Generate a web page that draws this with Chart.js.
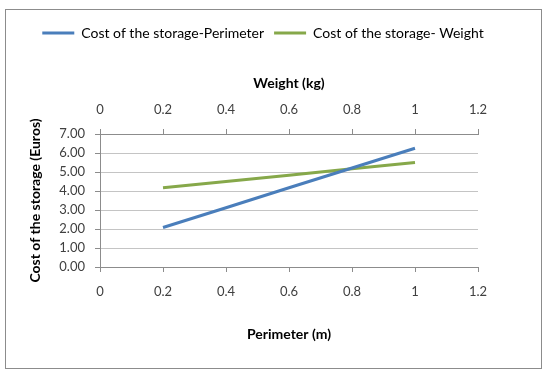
<!DOCTYPE html>
<html>
<head>
<meta charset="utf-8">
<script src="https://cdn.jsdelivr.net/npm/chart.js@4.4.1/dist/chart.umd.min.js"></script>
<style>
  html, body { margin: 0; padding: 0; background: #fff; }
  #wrap { position: relative; width: 550px; height: 376px; }
  #frame { position: absolute; left: 5px; top: 9px; width: 535px; height: 358px; border: 1px solid #8c8c8c; pointer-events: none; }
  canvas { position: absolute; left: 0; top: 0; }
</style>
</head>
<body>
<div id="wrap">
  <canvas id="chart" width="550" height="376"></canvas>
  <div id="frame"></div>
</div>
<script>
// Valores
const perimeter = [0.2, 0.4, 0.6, 0.8, 1.0];
const costPerimeter = [2.08, 3.12, 4.17, 5.21, 6.25];
const weight = [0.2, 0.4, 0.6, 0.8, 1.0];
const costWeight = [4.17, 4.50, 4.83, 5.17, 5.50];
const xTicks = [0, 0.2, 0.4, 0.6, 0.8, 1, 1.2];
const yTicks = [0, 1, 2, 3, 4, 5, 6, 7];

const FONT = 'Lato, "Open Sans", sans-serif';
const textColor = '#404040';
const axisColor = '#8c8c8c';
const gridColor = '#c4c4c4';

const plotTop = 134;
const plotBottom = 267;
const plotLeft = 100;

function toPoints(xs, ys) {
  return xs.map((x, i) => ({ x: x, y: ys[i] }));
}

function xLabel(v) {
  return String(Math.round(v * 10) / 10);
}

// mueve la leyenda para centrarla como en el original
const legendShift = {
  id: 'legendShift',
  afterLayout(chart) {
    chart.legend.left += 24;
    chart.legend.right += 24;
  }
};

new Chart(document.getElementById('chart'), {
  type: 'scatter',
  data: {
    datasets: [
      {
        label: 'Cost of the storage-Perimeter',
        data: toPoints(perimeter, costPerimeter),
        xAxisID: 'x',
        borderColor: '#4a7ebb',
        backgroundColor: '#4a7ebb',
        borderWidth: 3,
        showLine: true,
        pointRadius: 0
      },
      {
        label: 'Cost of the storage- Weight',
        data: toPoints(weight, costWeight),
        xAxisID: 'x2',
        borderColor: '#86a84a',
        backgroundColor: '#86a84a',
        borderWidth: 3,
        showLine: true,
        pointRadius: 0
      }
    ]
  },
  options: {
    responsive: false,
    animation: false,
    layout: { padding: { left: 0, right: 72, top: 16, bottom: 0 } },
    plugins: {
      tooltip: { enabled: false },
      legend: {
        position: 'top',
        labels: {
          font: { family: FONT, size: 14 },
          color: '#000',
          boxWidth: 32,
          boxHeight: 3,
          padding: 10,
          generateLabels(chart) {
            return chart.data.datasets.map((ds, i) => ({
              text: ds.label,
              fillStyle: ds.borderColor,
              strokeStyle: ds.borderColor,
              lineWidth: 0,
              datasetIndex: i
            }));
          }
        }
      }
    },
    scales: {
      x: {
        type: 'linear',
        position: 'bottom',
        min: 0,
        max: 1.2,
        afterBuildTicks(scale) { scale.ticks = xTicks.map(v => ({ value: v })); },
        afterFit(scale) { scale.height = 376 - plotBottom; },
        ticks: { font: { family: FONT, size: 13 }, color: textColor, padding: 12, callback: xLabel },
        grid: { drawOnChartArea: false, color: axisColor, tickLength: 5, tickColor: axisColor },
        border: { color: axisColor },
        title: {
          display: true,
          text: 'Perimeter (m)',
          font: { family: FONT, size: 14, weight: 'bold' },
          color: '#000',
          padding: { top: 0, bottom: 33 }
        }
      },
      x2: {
        type: 'linear',
        position: 'top',
        min: 0,
        max: 1.2,
        afterBuildTicks(scale) { scale.ticks = xTicks.map(v => ({ value: v })); },
        afterFit(scale) {
          const lg = scale.chart.legend;
          scale.height = plotTop - 16 - (lg ? lg.height : 30);
        },
        ticks: { font: { family: FONT, size: 13 }, color: textColor, padding: 11, callback: xLabel },
        grid: { drawOnChartArea: false, color: axisColor, tickLength: 5, tickColor: axisColor },
        border: { color: axisColor },
        title: {
          display: true,
          text: 'Weight (kg)',
          font: { family: FONT, size: 14, weight: 'bold' },
          color: '#000',
          padding: { top: 25, bottom: 0 }
        }
      },
      y: {
        type: 'linear',
        position: 'left',
        min: 0,
        max: 7,
        afterBuildTicks(scale) { scale.ticks = yTicks.map(v => ({ value: v })); },
        afterFit(scale) { scale.width = plotLeft; },
        ticks: {
          font: { family: FONT, size: 13 },
          color: textColor,
          padding: 10,
          callback: (v) => Number(v).toFixed(2)
        },
        grid: { color: gridColor, tickLength: 5, tickColor: axisColor },
        border: { color: axisColor },
        title: {
          display: true,
          text: 'Cost of the storage (Euros)',
          font: { family: FONT, size: 14, weight: 'bold' },
          color: '#000',
          padding: { top: 27, bottom: 0 }
        }
      }
    }
  },
  plugins: [legendShift]
});
</script>
</body>
</html>
